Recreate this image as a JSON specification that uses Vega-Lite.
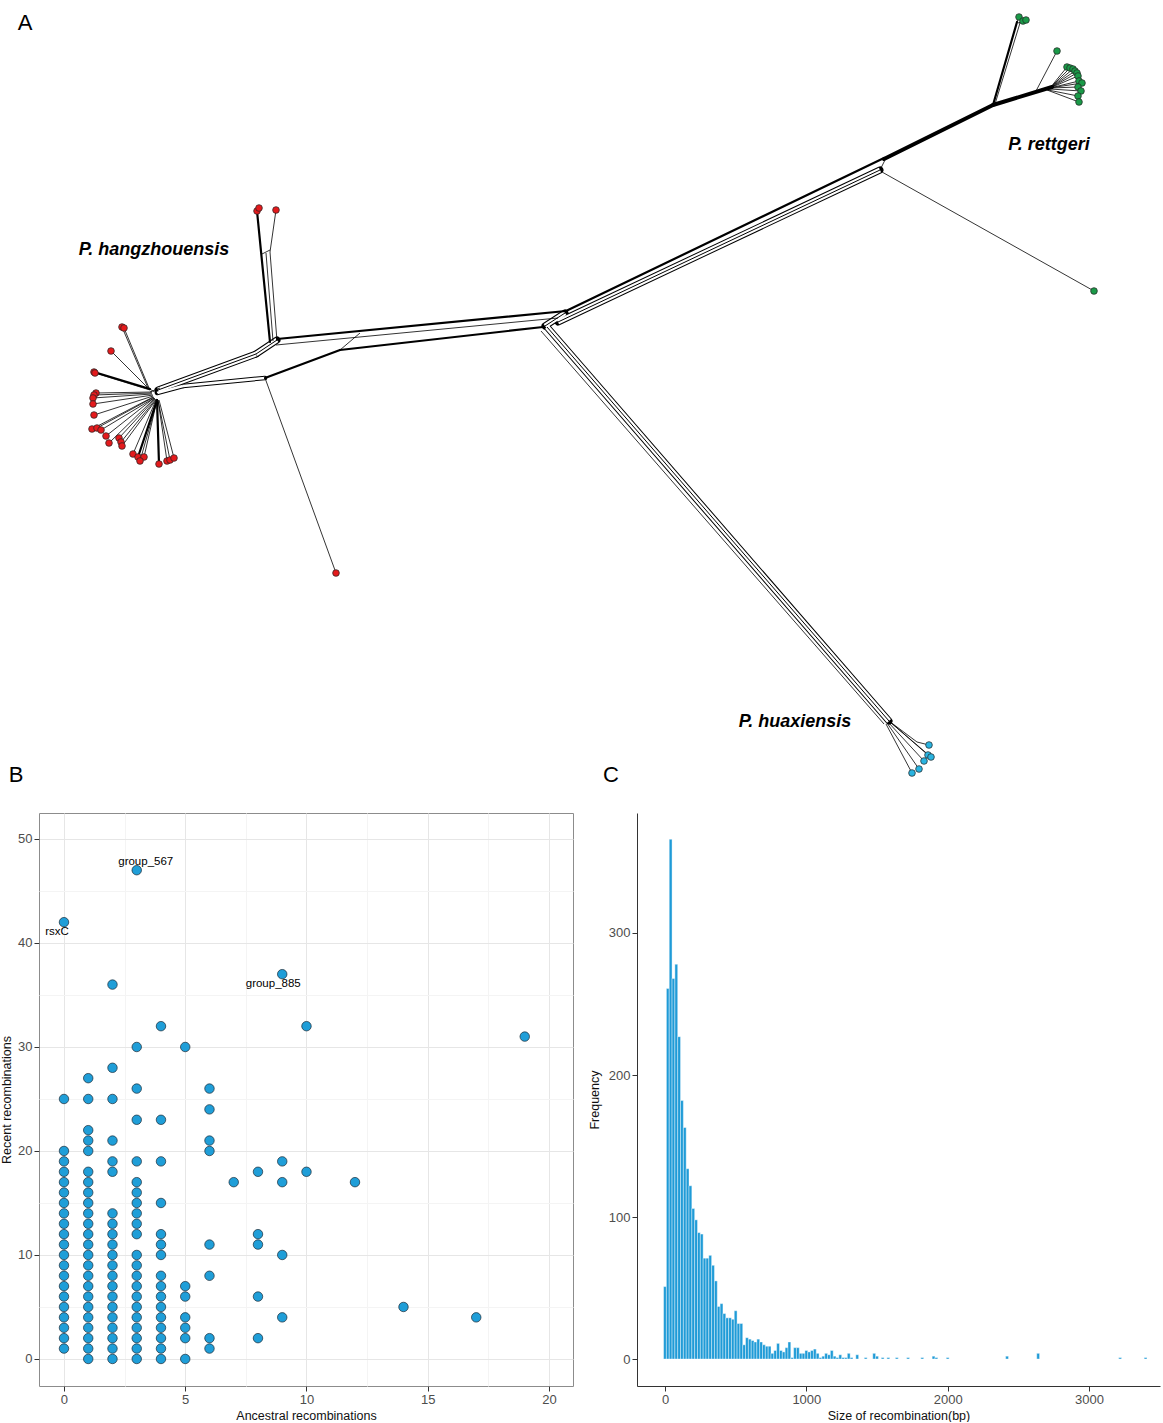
{
  "$schema": "https://vega.github.io/schema/vega-lite/v6.json",
  "padding": 0,
  "background": "white",
  "spacing": 22,
  "config": {
    "view": {"stroke": null},
    "font": "Liberation Sans",
    "axis": {
      "labelFont": "Liberation Sans", "titleFont": "Liberation Sans",
      "labelFontSize": 13, "labelColor": "#4d4d4d",
      "titleFontSize": 12.5, "titleFontWeight": "normal", "titleColor": "#111111",
      "tickColor": "#333333", "tickSize": 5, "labelPadding": 2, "domainColor": "#333333"
    }
  },
  "datasets": {
    "segs": [
      {"k": "thick", "x": 566, "y": 311, "x2": 884, "y2": 158},
      {"k": "band", "x": 558, "y": 322, "x2": 880, "y2": 170},
      {"k": "thin", "x": 880, "y": 170, "x2": 885, "y2": 160},
      {"k": "heavy", "x": 884, "y": 159, "x2": 993, "y2": 105},
      {"k": "thin", "x": 882, "y": 172, "x2": 1094, "y2": 291},
      {"k": "thick", "x": 993, "y": 105, "x2": 1017, "y2": 22},
      {"k": "thin", "x": 995, "y": 104, "x2": 1020, "y2": 23},
      {"k": "thin", "x": 1017, "y": 22, "x2": 1019, "y2": 17},
      {"k": "thin", "x": 1018, "y": 23, "x2": 1023, "y2": 21},
      {"k": "thin", "x": 1019, "y": 23, "x2": 1026, "y2": 20},
      {"k": "heavy", "x": 993, "y": 105, "x2": 1052, "y2": 87},
      {"k": "thin", "x": 1036, "y": 91, "x2": 1057, "y2": 51},
      {"k": "thin", "x": 1050, "y": 88, "x2": 1067, "y2": 67},
      {"k": "thin", "x": 1050, "y": 88, "x2": 1070, "y2": 68},
      {"k": "thin", "x": 1050, "y": 88, "x2": 1073, "y2": 69},
      {"k": "thin", "x": 1050, "y": 88, "x2": 1075, "y2": 71},
      {"k": "thin", "x": 1050, "y": 88, "x2": 1077, "y2": 73},
      {"k": "thin", "x": 1050, "y": 88, "x2": 1078, "y2": 76},
      {"k": "thin", "x": 1050, "y": 88, "x2": 1079, "y2": 81},
      {"k": "thin", "x": 1050, "y": 88, "x2": 1082, "y2": 83},
      {"k": "thin", "x": 1050, "y": 88, "x2": 1078, "y2": 87},
      {"k": "thin", "x": 1050, "y": 89, "x2": 1081, "y2": 91},
      {"k": "thin", "x": 1048, "y": 90, "x2": 1078, "y2": 96},
      {"k": "thin", "x": 1047, "y": 90, "x2": 1079, "y2": 102},
      {"k": "band", "x": 545, "y": 326, "x2": 565, "y2": 313},
      {"k": "band", "x": 547, "y": 327, "x2": 889, "y2": 721},
      {"k": "thin", "x": 541, "y": 331, "x2": 884, "y2": 724},
      {"k": "thin", "x": 889, "y": 721, "x2": 917, "y2": 742},
      {"k": "thin", "x": 917, "y": 742, "x2": 929, "y2": 745},
      {"k": "thin", "x": 889, "y": 721, "x2": 928, "y2": 755},
      {"k": "thin", "x": 889, "y": 721, "x2": 931, "y2": 757},
      {"k": "thin", "x": 888, "y": 722, "x2": 924, "y2": 761},
      {"k": "thin", "x": 887, "y": 723, "x2": 919, "y2": 769},
      {"k": "thin", "x": 886, "y": 724, "x2": 912, "y2": 773},
      {"k": "thick", "x": 566, "y": 311, "x2": 277, "y2": 339},
      {"k": "thin", "x": 558, "y": 318, "x2": 276, "y2": 345},
      {"k": "thick", "x": 543, "y": 327, "x2": 340, "y2": 350},
      {"k": "thin", "x": 340, "y": 350, "x2": 360, "y2": 333},
      {"k": "thick", "x": 340, "y": 350, "x2": 265, "y2": 378},
      {"k": "thin", "x": 265, "y": 378, "x2": 336, "y2": 573},
      {"k": "narrow", "x": 265, "y": 378, "x2": 183, "y2": 386},
      {"k": "narrow", "x": 183, "y": 386, "x2": 157, "y2": 393},
      {"k": "band", "x": 277, "y": 340, "x2": 256, "y2": 354},
      {"k": "band", "x": 256, "y": 354, "x2": 158, "y2": 390},
      {"k": "thick", "x": 270, "y": 342, "x2": 257, "y2": 211},
      {"k": "thin", "x": 277, "y": 341, "x2": 270, "y2": 252},
      {"k": "thin", "x": 270, "y": 252, "x2": 276, "y2": 210},
      {"k": "thin", "x": 273, "y": 341, "x2": 266, "y2": 253},
      {"k": "thin", "x": 262, "y": 254, "x2": 270, "y2": 250},
      {"k": "thin", "x": 148, "y": 388, "x2": 122, "y2": 327},
      {"k": "thin", "x": 149, "y": 388, "x2": 124, "y2": 328},
      {"k": "thin", "x": 147, "y": 387, "x2": 111, "y2": 351},
      {"k": "thick", "x": 150, "y": 389, "x2": 94, "y2": 372},
      {"k": "thin", "x": 150, "y": 390, "x2": 95, "y2": 373},
      {"k": "thin", "x": 152, "y": 392, "x2": 96, "y2": 393},
      {"k": "thin", "x": 152, "y": 393, "x2": 94, "y2": 395},
      {"k": "thin", "x": 152, "y": 394, "x2": 93, "y2": 398},
      {"k": "thin", "x": 153, "y": 395, "x2": 93, "y2": 404},
      {"k": "thin", "x": 153, "y": 396, "x2": 94, "y2": 415},
      {"k": "thin", "x": 153, "y": 397, "x2": 92, "y2": 429},
      {"k": "thin", "x": 154, "y": 397, "x2": 97, "y2": 428},
      {"k": "thin", "x": 154, "y": 398, "x2": 101, "y2": 430},
      {"k": "thin", "x": 154, "y": 398, "x2": 106, "y2": 436},
      {"k": "thin", "x": 155, "y": 398, "x2": 109, "y2": 443},
      {"k": "thin", "x": 155, "y": 399, "x2": 119, "y2": 438},
      {"k": "thin", "x": 156, "y": 399, "x2": 121, "y2": 442},
      {"k": "thin", "x": 156, "y": 400, "x2": 122, "y2": 446},
      {"k": "thin", "x": 156, "y": 400, "x2": 133, "y2": 454},
      {"k": "thick", "x": 157, "y": 400, "x2": 138, "y2": 457},
      {"k": "thin", "x": 157, "y": 400, "x2": 144, "y2": 457},
      {"k": "thin", "x": 157, "y": 401, "x2": 140, "y2": 461},
      {"k": "thick", "x": 157, "y": 400, "x2": 159, "y2": 464},
      {"k": "thin", "x": 158, "y": 400, "x2": 167, "y2": 461},
      {"k": "thin", "x": 158, "y": 400, "x2": 170, "y2": 460},
      {"k": "thin", "x": 159, "y": 400, "x2": 174, "y2": 458},
      {"k": "thin", "x": 148, "y": 388, "x2": 158, "y2": 394},
      {"k": "thin", "x": 150, "y": 392, "x2": 160, "y2": 388}
    ],
    "tips": [
      {"sp": "hz", "x": 122, "y": 327}, {"sp": "hz", "x": 124, "y": 328}, {"sp": "hz", "x": 111, "y": 351},
      {"sp": "hz", "x": 94, "y": 372}, {"sp": "hz", "x": 95, "y": 373}, {"sp": "hz", "x": 96, "y": 393},
      {"sp": "hz", "x": 94, "y": 395}, {"sp": "hz", "x": 93, "y": 398}, {"sp": "hz", "x": 93, "y": 404},
      {"sp": "hz", "x": 94, "y": 415}, {"sp": "hz", "x": 92, "y": 429}, {"sp": "hz", "x": 97, "y": 428},
      {"sp": "hz", "x": 101, "y": 430}, {"sp": "hz", "x": 106, "y": 436}, {"sp": "hz", "x": 109, "y": 443},
      {"sp": "hz", "x": 119, "y": 438}, {"sp": "hz", "x": 121, "y": 442}, {"sp": "hz", "x": 122, "y": 446},
      {"sp": "hz", "x": 133, "y": 454}, {"sp": "hz", "x": 138, "y": 457}, {"sp": "hz", "x": 144, "y": 457},
      {"sp": "hz", "x": 140, "y": 461}, {"sp": "hz", "x": 159, "y": 464}, {"sp": "hz", "x": 167, "y": 461},
      {"sp": "hz", "x": 170, "y": 460}, {"sp": "hz", "x": 174, "y": 458}, {"sp": "hz", "x": 257, "y": 211},
      {"sp": "hz", "x": 259, "y": 208}, {"sp": "hz", "x": 276, "y": 210}, {"sp": "hz", "x": 336, "y": 573},
      {"sp": "rt", "x": 1019, "y": 17}, {"sp": "rt", "x": 1023, "y": 21}, {"sp": "rt", "x": 1026, "y": 20},
      {"sp": "rt", "x": 1057, "y": 51}, {"sp": "rt", "x": 1067, "y": 67}, {"sp": "rt", "x": 1070, "y": 68},
      {"sp": "rt", "x": 1073, "y": 69}, {"sp": "rt", "x": 1075, "y": 71}, {"sp": "rt", "x": 1077, "y": 73},
      {"sp": "rt", "x": 1078, "y": 76}, {"sp": "rt", "x": 1079, "y": 81}, {"sp": "rt", "x": 1082, "y": 83},
      {"sp": "rt", "x": 1078, "y": 87}, {"sp": "rt", "x": 1081, "y": 91}, {"sp": "rt", "x": 1078, "y": 96},
      {"sp": "rt", "x": 1079, "y": 102}, {"sp": "rt", "x": 1094, "y": 291},
      {"sp": "hx", "x": 929, "y": 745}, {"sp": "hx", "x": 928, "y": 755}, {"sp": "hx", "x": 931, "y": 757},
      {"sp": "hx", "x": 924, "y": 761}, {"sp": "hx", "x": 919, "y": 769}, {"sp": "hx", "x": 912, "y": 773}
    ],
    "species": [
      {"t": "P. hangzhouensis", "x": 154, "y": 250},
      {"t": "P. rettgeri", "x": 1049, "y": 145},
      {"t": "P. huaxiensis", "x": 795, "y": 722}
    ],
    "letters": [
      {"t": "A", "x": 25, "y": 23},
      {"t": "B", "x": 16, "y": 775},
      {"t": "C", "x": 611, "y": 775}
    ],
    "scatter": [
      {"a": 0, "r": 1}, {"a": 0, "r": 2}, {"a": 0, "r": 3}, {"a": 0, "r": 4}, {"a": 0, "r": 5}, {"a": 0, "r": 6}, {"a": 0, "r": 7}, {"a": 0, "r": 8}, {"a": 0, "r": 9}, {"a": 0, "r": 10},
      {"a": 0, "r": 11}, {"a": 0, "r": 12}, {"a": 0, "r": 13}, {"a": 0, "r": 14}, {"a": 0, "r": 15}, {"a": 0, "r": 16}, {"a": 0, "r": 17}, {"a": 0, "r": 18}, {"a": 0, "r": 19}, {"a": 0, "r": 20},
      {"a": 0, "r": 25}, {"a": 0, "r": 42},
      {"a": 1, "r": 0}, {"a": 1, "r": 1}, {"a": 1, "r": 2}, {"a": 1, "r": 3}, {"a": 1, "r": 4}, {"a": 1, "r": 5}, {"a": 1, "r": 6}, {"a": 1, "r": 7}, {"a": 1, "r": 8}, {"a": 1, "r": 9},
      {"a": 1, "r": 10}, {"a": 1, "r": 11}, {"a": 1, "r": 12}, {"a": 1, "r": 13}, {"a": 1, "r": 14}, {"a": 1, "r": 15}, {"a": 1, "r": 16}, {"a": 1, "r": 17}, {"a": 1, "r": 18},
      {"a": 1, "r": 20}, {"a": 1, "r": 21}, {"a": 1, "r": 22}, {"a": 1, "r": 25}, {"a": 1, "r": 27},
      {"a": 2, "r": 0}, {"a": 2, "r": 1}, {"a": 2, "r": 2}, {"a": 2, "r": 3}, {"a": 2, "r": 4}, {"a": 2, "r": 5}, {"a": 2, "r": 6}, {"a": 2, "r": 7}, {"a": 2, "r": 8}, {"a": 2, "r": 9},
      {"a": 2, "r": 10}, {"a": 2, "r": 11}, {"a": 2, "r": 12}, {"a": 2, "r": 13}, {"a": 2, "r": 14}, {"a": 2, "r": 18}, {"a": 2, "r": 19}, {"a": 2, "r": 21}, {"a": 2, "r": 25}, {"a": 2, "r": 28}, {"a": 2, "r": 36},
      {"a": 3, "r": 0}, {"a": 3, "r": 1}, {"a": 3, "r": 2}, {"a": 3, "r": 3}, {"a": 3, "r": 4}, {"a": 3, "r": 5}, {"a": 3, "r": 6}, {"a": 3, "r": 7}, {"a": 3, "r": 8}, {"a": 3, "r": 9},
      {"a": 3, "r": 10}, {"a": 3, "r": 12}, {"a": 3, "r": 13}, {"a": 3, "r": 14}, {"a": 3, "r": 15}, {"a": 3, "r": 16}, {"a": 3, "r": 17}, {"a": 3, "r": 19}, {"a": 3, "r": 23}, {"a": 3, "r": 26}, {"a": 3, "r": 30}, {"a": 3, "r": 47},
      {"a": 4, "r": 0}, {"a": 4, "r": 1}, {"a": 4, "r": 2}, {"a": 4, "r": 3}, {"a": 4, "r": 4}, {"a": 4, "r": 5}, {"a": 4, "r": 6}, {"a": 4, "r": 7}, {"a": 4, "r": 8},
      {"a": 4, "r": 10}, {"a": 4, "r": 11}, {"a": 4, "r": 12}, {"a": 4, "r": 15}, {"a": 4, "r": 19}, {"a": 4, "r": 23}, {"a": 4, "r": 32},
      {"a": 5, "r": 0}, {"a": 5, "r": 2}, {"a": 5, "r": 3}, {"a": 5, "r": 4}, {"a": 5, "r": 6}, {"a": 5, "r": 7}, {"a": 5, "r": 30},
      {"a": 6, "r": 1}, {"a": 6, "r": 2}, {"a": 6, "r": 8}, {"a": 6, "r": 11}, {"a": 6, "r": 20}, {"a": 6, "r": 21}, {"a": 6, "r": 24}, {"a": 6, "r": 26},
      {"a": 7, "r": 17},
      {"a": 8, "r": 2}, {"a": 8, "r": 6}, {"a": 8, "r": 11}, {"a": 8, "r": 12}, {"a": 8, "r": 18},
      {"a": 9, "r": 4}, {"a": 9, "r": 10}, {"a": 9, "r": 17}, {"a": 9, "r": 19}, {"a": 9, "r": 37},
      {"a": 10, "r": 18}, {"a": 10, "r": 32},
      {"a": 12, "r": 17}, {"a": 14, "r": 5}, {"a": 17, "r": 4}, {"a": 19, "r": 31}
    ],
    "blabels": [
      {"a": 3, "r": 47, "name": "group_567"},
      {"a": 0, "r": 42, "name": "rsxC"},
      {"a": 9, "r": 37, "name": "group_885"}
    ],
    "hist": [
      {"lo": -10, "hi": 10, "n": 51}, {"lo": 10, "hi": 30, "n": 261}, {"lo": 30, "hi": 50, "n": 366}, {"lo": 50, "hi": 70, "n": 268},
      {"lo": 70, "hi": 90, "n": 278}, {"lo": 90, "hi": 110, "n": 227}, {"lo": 110, "hi": 130, "n": 182}, {"lo": 130, "hi": 150, "n": 163},
      {"lo": 150, "hi": 170, "n": 134}, {"lo": 170, "hi": 190, "n": 122}, {"lo": 190, "hi": 210, "n": 106}, {"lo": 210, "hi": 230, "n": 98},
      {"lo": 230, "hi": 250, "n": 89}, {"lo": 250, "hi": 270, "n": 88}, {"lo": 270, "hi": 290, "n": 71}, {"lo": 290, "hi": 310, "n": 71},
      {"lo": 310, "hi": 330, "n": 73}, {"lo": 330, "hi": 350, "n": 66}, {"lo": 350, "hi": 370, "n": 55}, {"lo": 370, "hi": 390, "n": 37},
      {"lo": 390, "hi": 410, "n": 39}, {"lo": 410, "hi": 430, "n": 32}, {"lo": 430, "hi": 450, "n": 29}, {"lo": 450, "hi": 470, "n": 29},
      {"lo": 470, "hi": 490, "n": 28}, {"lo": 490, "hi": 510, "n": 34}, {"lo": 510, "hi": 530, "n": 25}, {"lo": 530, "hi": 550, "n": 25},
      {"lo": 550, "hi": 570, "n": 10}, {"lo": 570, "hi": 590, "n": 15}, {"lo": 590, "hi": 610, "n": 14}, {"lo": 610, "hi": 630, "n": 13},
      {"lo": 630, "hi": 650, "n": 12}, {"lo": 650, "hi": 670, "n": 14}, {"lo": 670, "hi": 690, "n": 12}, {"lo": 690, "hi": 710, "n": 10},
      {"lo": 710, "hi": 730, "n": 9}, {"lo": 730, "hi": 750, "n": 9}, {"lo": 750, "hi": 770, "n": 4}, {"lo": 770, "hi": 790, "n": 6},
      {"lo": 790, "hi": 810, "n": 11}, {"lo": 810, "hi": 830, "n": 6}, {"lo": 830, "hi": 850, "n": 5}, {"lo": 850, "hi": 870, "n": 8},
      {"lo": 870, "hi": 890, "n": 12}, {"lo": 890, "hi": 910, "n": 1}, {"lo": 910, "hi": 930, "n": 8}, {"lo": 930, "hi": 950, "n": 8},
      {"lo": 950, "hi": 970, "n": 4}, {"lo": 970, "hi": 990, "n": 4}, {"lo": 990, "hi": 1010, "n": 6}, {"lo": 1010, "hi": 1030, "n": 5},
      {"lo": 1030, "hi": 1050, "n": 6}, {"lo": 1050, "hi": 1070, "n": 7}, {"lo": 1070, "hi": 1090, "n": 4}, {"lo": 1090, "hi": 1110, "n": 1},
      {"lo": 1110, "hi": 1130, "n": 2}, {"lo": 1130, "hi": 1150, "n": 4}, {"lo": 1150, "hi": 1170, "n": 3}, {"lo": 1170, "hi": 1190, "n": 6},
      {"lo": 1190, "hi": 1210, "n": 2}, {"lo": 1210, "hi": 1230, "n": 1}, {"lo": 1230, "hi": 1250, "n": 3}, {"lo": 1250, "hi": 1270, "n": 1},
      {"lo": 1270, "hi": 1290, "n": 1}, {"lo": 1290, "hi": 1310, "n": 4}, {"lo": 1310, "hi": 1330, "n": 1}, {"lo": 1350, "hi": 1370, "n": 3},
      {"lo": 1410, "hi": 1430, "n": 1}, {"lo": 1470, "hi": 1490, "n": 4}, {"lo": 1490, "hi": 1510, "n": 2}, {"lo": 1530, "hi": 1550, "n": 1},
      {"lo": 1570, "hi": 1590, "n": 1}, {"lo": 1630, "hi": 1650, "n": 1}, {"lo": 1710, "hi": 1730, "n": 1}, {"lo": 1810, "hi": 1830, "n": 1},
      {"lo": 1890, "hi": 1910, "n": 2}, {"lo": 1910, "hi": 1930, "n": 1}, {"lo": 1990, "hi": 2010, "n": 1}, {"lo": 2410, "hi": 2430, "n": 2},
      {"lo": 2630, "hi": 2650, "n": 4}, {"lo": 3210, "hi": 3230, "n": 1}, {"lo": 3390, "hi": 3410, "n": 1}
    ]
  },
  "vconcat": [
    {
      "width": 1124,
      "height": 790,
      "encoding": {
        "x": {"field": "x", "type": "quantitative", "scale": {"domain": [39, 1163], "nice": false, "zero": false}, "axis": null},
        "y": {"field": "y", "type": "quantitative", "scale": {"domain": [0, 790], "nice": false, "zero": false, "reverse": true}, "axis": null}
      },
      "layer": [
        {"data": {"name": "segs"}, "transform": [{"filter": "datum.k === 'band'"}], "mark": {"type": "rule", "color": "#000000", "strokeWidth": 7, "strokeCap": "round"}, "encoding": {"x2": {"field": "x2"}, "y2": {"field": "y2"}}},
        {"data": {"name": "segs"}, "transform": [{"filter": "datum.k === 'narrow'"}], "mark": {"type": "rule", "color": "#000000", "strokeWidth": 4.5, "strokeCap": "round"}, "encoding": {"x2": {"field": "x2"}, "y2": {"field": "y2"}}},
        {"data": {"name": "segs"}, "transform": [{"filter": "datum.k === 'band'"}], "mark": {"type": "rule", "color": "#ffffff", "strokeWidth": 5, "strokeCap": "butt"}, "encoding": {"x2": {"field": "x2"}, "y2": {"field": "y2"}}},
        {"data": {"name": "segs"}, "transform": [{"filter": "datum.k === 'narrow'"}], "mark": {"type": "rule", "color": "#ffffff", "strokeWidth": 2.5, "strokeCap": "butt"}, "encoding": {"x2": {"field": "x2"}, "y2": {"field": "y2"}}},
        {"data": {"name": "segs"}, "transform": [{"filter": "datum.k === 'band'"}], "mark": {"type": "rule", "color": "#000000", "strokeWidth": 1}, "encoding": {"x2": {"field": "x2"}, "y2": {"field": "y2"}}},
        {"data": {"name": "segs"}, "transform": [{"filter": "datum.k === 'thick'"}], "mark": {"type": "rule", "color": "#000000", "strokeWidth": 2.2, "strokeCap": "round"}, "encoding": {"x2": {"field": "x2"}, "y2": {"field": "y2"}}},
        {"data": {"name": "segs"}, "transform": [{"filter": "datum.k === 'heavy'"}], "mark": {"type": "rule", "color": "#000000", "strokeWidth": 4, "strokeCap": "round"}, "encoding": {"x2": {"field": "x2"}, "y2": {"field": "y2"}}},
        {"data": {"name": "segs"}, "transform": [{"filter": "datum.k === 'thin'"}], "mark": {"type": "rule", "color": "#000000", "strokeWidth": 0.8}, "encoding": {"x2": {"field": "x2"}, "y2": {"field": "y2"}}},
        {"data": {"name": "tips"}, "mark": {"type": "point", "shape": "circle", "filled": true, "size": 45, "stroke": "#222222", "strokeWidth": 0.7, "opacity": 1},
         "encoding": {"fill": {"field": "sp", "type": "nominal", "scale": {"domain": ["hz", "rt", "hx"], "range": ["#e41a1c", "#1a9a48", "#29b3e0"]}, "legend": null}}},
        {"data": {"name": "species"}, "mark": {"type": "text", "font": "Liberation Sans", "fontSize": 18, "fontStyle": "italic", "fontWeight": "bold", "align": "center", "baseline": "middle", "color": "#000000"}, "encoding": {"text": {"field": "t"}}},
        {"data": {"name": "letters"}, "mark": {"type": "text", "font": "Liberation Sans", "fontSize": 22, "align": "center", "baseline": "middle", "color": "#000000"}, "encoding": {"text": {"field": "t"}}}
      ]
    },
    {
      "spacing": 14,
      "hconcat": [
        {
          "width": 534,
          "height": 573,
          "view": {"stroke": "#8c8c8c", "strokeWidth": 1},
          "encoding": {
            "x": {"field": "a", "type": "quantitative", "scale": {"domain": [-1.03, 20.99], "nice": false, "zero": false},
                  "axis": {"values": [0, 2.5, 5, 7.5, 10, 12.5, 15, 17.5, 20], "labelExpr": "datum.value % 5 === 0 ? datum.label : ''",
                           "grid": true, "gridColor": {"condition": {"test": "datum.value % 5 !== 0", "value": "#f4f4f4"}, "value": "#e6e6e6"},
                           "tickOpacity": {"condition": {"test": "datum.value % 5 !== 0", "value": 0}, "value": 1},
                           "domain": false, "title": "Ancestral recombinations", "titlePadding": 3}},
            "y": {"field": "r", "type": "quantitative", "scale": {"domain": [-2.6, 52.5], "nice": false, "zero": false},
                  "axis": {"values": [0, 5, 10, 15, 20, 25, 30, 35, 40, 45, 50], "labelExpr": "datum.value % 10 === 0 ? datum.label : ''",
                           "grid": true, "gridColor": {"condition": {"test": "datum.value % 10 !== 0", "value": "#f4f4f4"}, "value": "#e6e6e6"},
                           "tickOpacity": {"condition": {"test": "datum.value % 10 !== 0", "value": 0}, "value": 1},
                           "domain": false, "title": "Recent recombinations", "titlePadding": 4}}
          },
          "layer": [
            {"data": {"name": "scatter"}, "mark": {"type": "point", "shape": "circle", "filled": true, "size": 90, "fill": "#1f9ed8", "stroke": "#1d2b36", "strokeWidth": 0.7, "opacity": 1}},
            {"data": {"name": "blabels"}, "transform": [{"filter": "datum.name === 'group_567'"}], "mark": {"type": "text", "fontSize": 11.5, "dx": 9, "dy": -8, "color": "#000000"}, "encoding": {"text": {"field": "name"}}},
            {"data": {"name": "blabels"}, "transform": [{"filter": "datum.name === 'rsxC'"}], "mark": {"type": "text", "fontSize": 11.5, "dx": -7, "dy": 10, "color": "#000000"}, "encoding": {"text": {"field": "name"}}},
            {"data": {"name": "blabels"}, "transform": [{"filter": "datum.name === 'group_885'"}], "mark": {"type": "text", "fontSize": 11.5, "dx": -9, "dy": 10, "color": "#000000"}, "encoding": {"text": {"field": "name"}}}
          ]
        },
        {
          "width": 523,
          "height": 573,
          "data": {"name": "hist"},
          "mark": {"type": "bar", "fill": "#1f9bd7", "stroke": "#ffffff", "strokeWidth": 0.4},
          "encoding": {
            "x": {"field": "lo", "type": "quantitative", "scale": {"domain": [-198, 3502], "nice": false, "zero": false},
                  "axis": {"values": [0, 1000, 2000, 3000], "format": "d", "grid": false, "title": "Size of recombination(bp)", "titlePadding": 3}},
            "x2": {"field": "hi"},
            "y": {"field": "n", "type": "quantitative", "scale": {"domain": [-19, 384.5], "nice": false, "zero": false},
                  "axis": {"values": [0, 100, 200, 300], "format": "d", "grid": false, "title": "Frequency", "titlePadding": 7}},
            "y2": {"datum": 0}
          }
        }
      ]
    }
  ]
}
